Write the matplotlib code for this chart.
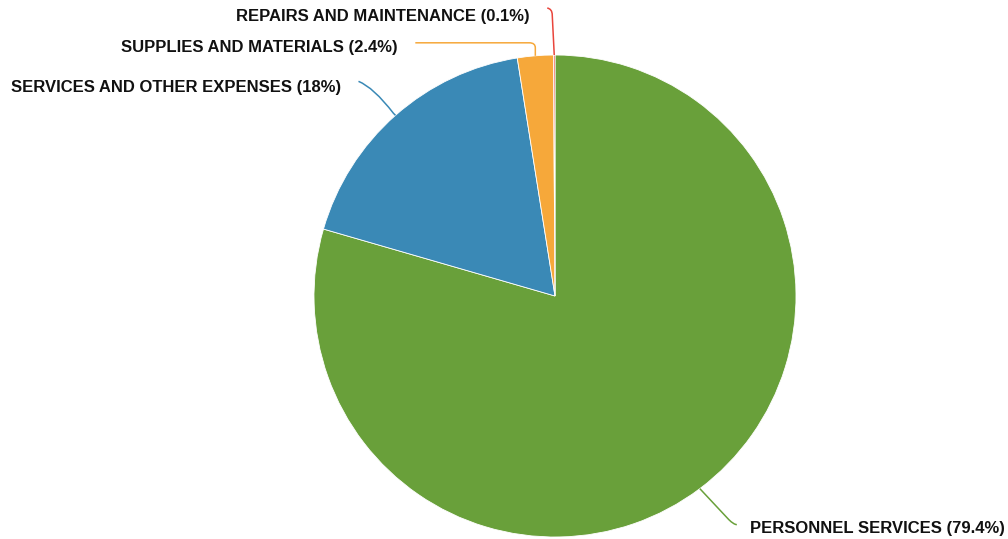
import numpy as np
import matplotlib
matplotlib.use("Agg")
import matplotlib.pyplot as plt
from matplotlib.path import Path
from matplotlib.patches import PathPatch

categories = ["PERSONNEL SERVICES", "SERVICES AND OTHER EXPENSES",
              "SUPPLIES AND MATERIALS", "REPAIRS AND MAINTENANCE"]
shares = [79.4, 18.0, 2.4, 0.1]
share_labels = ["79.4%", "18%", "2.4%", "0.1%"]
colors = ["#69a03a", "#3a89b6", "#f6a83a", "#e9453c"]

W, H = 1008, 539
fig = plt.figure(figsize=(W / 100, H / 100), dpi=100)
ax = fig.add_axes([0, 0, 1, 1])
ax.set_aspect("equal")
ax.axis("off")

cx, cy, r = 555, H - 296, 241
wedges, _ = ax.pie(shares, colors=colors, startangle=90, counterclock=False,
                   center=(cx, cy), radius=r,
                   wedgeprops=dict(edgecolor="white", linewidth=0.6))
ax.set_xlim(0, W)
ax.set_ylim(0, H)

# connector layout: offsets in screen px (x right, y down) from the wedge anchor:
# a straight run, then a quadratic bend (control point, end point);
# text position is (x, baseline y) in screen px
layout = {
    "PERSONNEL SERVICES": dict(path=[(29, 31), (34, 36), (37, 36)], text=(750, 533), ha="left"),
    "SERVICES AND OTHER EXPENSES": dict(path=[(-2, -2), (-22, -28), (-37, -34)], text=(341, 92), ha="right"),
    "SUPPLIES AND MATERIALS": dict(path=[(0, -8), (0, -13), (-6, -13)], text=(398, 52), ha="right", tail=(-120, -13)),
    "REPAIRS AND MAINTENANCE": dict(path=[(-2, -40), (-2, -46), (-7, -47)], text=(530, 21), ha="right"),
}

for w, name, lab, col in zip(wedges, categories, share_labels, colors):
    mid = np.deg2rad((w.theta1 + w.theta2) / 2)
    x0 = cx + r * np.cos(mid)
    y0 = cy + r * np.sin(mid)
    lay = layout[name]
    pts = [(x0, y0)] + [(x0 + dx, y0 - dy) for dx, dy in lay["path"]]
    codes = [Path.MOVETO, Path.LINETO, Path.CURVE3, Path.CURVE3]
    if "tail" in lay:
        dx, dy = lay["tail"]
        pts.append((x0 + dx, y0 - dy))
        codes.append(Path.LINETO)
    ax.add_patch(PathPatch(Path(pts, codes), facecolor="none", edgecolor=col,
                           linewidth=1.1, zorder=3))
    tx, ty = lay["text"]
    ax.text(tx, H - ty, f"{name} ({lab})", ha=lay["ha"], va="baseline",
            fontsize=12, fontweight="bold", family="Liberation Sans", color="#111111")

fig.savefig("out.png", dpi=100)
